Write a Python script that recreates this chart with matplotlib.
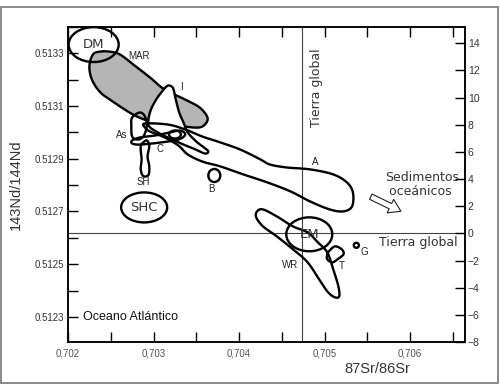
import matplotlib
matplotlib.use('Agg')
import matplotlib.pyplot as plt
import numpy as np
from matplotlib.patches import Ellipse, Polygon, Rectangle
from matplotlib.ticker import MultipleLocator, FuncFormatter

# field outlines: 87Sr/86Sr vs eps Nd
mar_sr = [0.70229, 0.70237, 0.70249, 0.70261, 0.70278, 0.70296, 0.70313, 0.70337, 0.70354, 0.70363,
          0.70360, 0.70352, 0.70335, 0.70313, 0.70296, 0.70276, 0.70249, 0.70237, 0.70228, 0.70225]
mar_eps = [13.16, 13.38, 13.38, 13.16, 12.35, 11.47, 10.59, 9.85, 9.26, 8.53,
           8.01, 7.79, 7.87, 8.01, 8.24, 8.75, 9.85, 10.44, 11.32, 12.28]

ice_sr = [0.70315, 0.70319, 0.70323, 0.70326, 0.70330, 0.70335, 0.70340, 0.70350, 0.70359, 0.70364,
          0.70360, 0.70349, 0.70335, 0.70319, 0.70305, 0.70295, 0.70294, 0.70297, 0.70303, 0.70309]
ice_eps = [10.81, 10.88, 10.66, 9.85, 8.90, 8.16, 7.43, 6.76, 6.32, 6.03,
           5.88, 6.18, 6.54, 6.99, 7.43, 7.87, 8.38, 9.12, 9.85, 10.37]

a_sr = [0.70290, 0.70317, 0.70337, 0.70357, 0.70375, 0.70401, 0.70425, 0.70436, 0.70456, 0.70483,
        0.70510, 0.70526, 0.70533, 0.70532, 0.70522, 0.70506, 0.70483, 0.70460, 0.70433, 0.70405,
        0.70378, 0.70357, 0.70340, 0.70329, 0.70313, 0.70296, 0.70290]
a_eps = [8.09, 8.01, 7.65, 7.13, 6.76, 6.18, 5.44, 5.07, 4.85, 4.71,
         4.34, 3.75, 3.01, 1.99, 1.62, 1.76, 2.35, 3.09, 3.75, 4.34,
         4.93, 5.29, 5.81, 6.47, 7.06, 7.50, 7.79]

as_sr = [0.70275, 0.70284, 0.70290, 0.70292, 0.70288, 0.70281, 0.70275, 0.70274]
as_eps = [8.53, 8.90, 8.60, 7.87, 7.13, 6.91, 7.13, 7.87]

c_sr = [0.70275, 0.70284, 0.70302, 0.70319, 0.70331, 0.70337, 0.70329, 0.70308, 0.70284, 0.70275]
c_eps = [6.84, 7.06, 7.21, 7.43, 7.57, 7.28, 6.91, 6.69, 6.54, 6.62]

sh_sr = [0.70290, 0.70285, 0.70286, 0.70285, 0.70288, 0.70294, 0.70295, 0.70293, 0.70295, 0.70293]
sh_eps = [6.80, 6.40, 5.44, 4.71, 4.22, 4.30, 4.93, 5.66, 6.40, 6.80]

wr_sr = [0.70421, 0.70428, 0.70444, 0.70463, 0.70480, 0.70492, 0.70503, 0.70510, 0.70516, 0.70517,
         0.70512, 0.70504, 0.70495, 0.70480, 0.70463, 0.70444, 0.70428, 0.70420]
wr_eps = [1.62, 1.76, 1.25, 0.51, 0.07, -0.66, -1.40, -2.65, -3.90, -4.63,
          -4.71, -4.34, -3.53, -2.13, -1.18, -0.22, 0.51, 1.18]

t_sr = [0.70505, 0.70512, 0.70520, 0.70522, 0.70515, 0.70509, 0.70503, 0.70503]
t_eps = [-1.32, -0.96, -1.18, -1.54, -1.91, -2.13, -1.91, -1.54]

# elliptical fields: (sr, eps, width sr, height eps)
dm = (0.70230, 13.90, 0.000585, 2.57)
shc = (0.70289, 1.91, 0.000538, 2.21)
em = (0.70482, -0.07, 0.000538, 2.50)
c_small = (0.70325, 7.28, 0.00014, 0.59)
b_field = (0.70371, 4.26, 0.00014, 0.96)
g_field = (0.70537, -0.88, 0.00006, 0.37)

bulk_earth_sr = 0.70474
bulk_earth_eps = 0.0


def smooth(xs, ys, n=14):
    p = np.column_stack([xs, ys])
    m = len(p)
    t = np.linspace(0, 1, n, endpoint=False)[:, None]
    out = []
    for i in range(m):
        p0, p1, p2, p3 = p[i - 1], p[i], p[(i + 1) % m], p[(i + 2) % m]
        out.append(0.5 * (2 * p1 + (-p0 + p2) * t + (2 * p0 - 5 * p1 + 4 * p2 - p3) * t ** 2
                          + (-p0 + 3 * p1 - 3 * p2 + p3) * t ** 3))
    return np.vstack(out)


fig = plt.figure(figsize=(5, 3.85), dpi=100)
fig.patches.append(Rectangle((0.002, 0.005), 0.994, 0.977, transform=fig.transFigure,
                             fill=False, ec='#8a8a8a', lw=1.4))

ax = fig.add_axes([0.136, 0.1117, 0.794, 0.8183])
axl = ax.twinx()
ax.set_xlim(0.702, 0.70664)
ax.set_ylim(-7.95, 15.2)

lw = 1.7
ax.axvline(bulk_earth_sr, color='#444444', lw=0.8, zorder=1)
ax.axhline(bulk_earth_eps, color='#444444', lw=0.8, zorder=1)

ax.add_patch(Polygon(smooth(mar_sr, mar_eps), closed=True, fc='#b5b5b5', ec='black', lw=lw, zorder=2))
for xs, ys in [(ice_sr, ice_eps), (a_sr, a_eps), (as_sr, as_eps), (c_sr, c_eps),
               (sh_sr, sh_eps), (wr_sr, wr_eps), (t_sr, t_eps)]:
    fc = 'white' if xs is ice_sr else 'none'
    ax.add_patch(Polygon(smooth(xs, ys), closed=True, fc=fc, ec='black', lw=lw, zorder=3))

for e in [dm, shc, em, c_small, b_field, g_field]:
    ax.add_patch(Ellipse((e[0], e[1]), e[2], e[3], fc='none', ec='black', lw=lw, zorder=4))

big = dict(fontsize=9.5, ha='center', va='center', color='#333333', zorder=5)
ax.text(dm[0], dm[1], 'DM', **big)
ax.text(shc[0], shc[1], 'SHC', **big)
ax.text(em[0], em[1], 'EM', **big)

small = dict(fontsize=7, family='Liberation Sans', ha='center', va='center', color='#222222')
ax.text(0.70270, 13.09, 'MAR', ha='left', va='center', fontsize=7, family='Liberation Sans', color='#222222')
ax.text(0.70333, 10.81, 'I', **small)
ax.text(0.70263, 7.28, 'As', **small)
ax.text(0.70308, 6.18, 'C', **small)
ax.text(0.70288, 3.75, 'SH', **small)
ax.text(0.70368, 3.24, 'B', **small)
ax.text(0.70489, 5.22, 'A', **small)
ax.text(0.70460, -2.35, 'WR', **small)
ax.text(0.70520, -2.43, 'T', **small)
ax.text(0.70546, -1.40, 'G', **small)

ax.text(0.70491, 10.74, 'Tierra global', rotation=90, ha='center', va='center', fontsize=9, color='#333333')
ax.text(0.70609, -0.66, 'Tierra global', ha='center', va='center', fontsize=9, color='#333333')
ax.text(0.70571, 3.6, 'Sedimentos\n oceánicos', ha='left', va='center', fontsize=9,
        color='#333333', linespacing=1.05)
ax.text(0.70218, -6.18, 'Oceano Atlántico', ha='left', va='center', fontsize=9,
        family='Liberation Sans', color='#111111')
ax.annotate('', xy=(0.70592, 1.54), xytext=(0.70551, 2.79),
            arrowprops=dict(arrowstyle='simple,head_length=0.7,head_width=0.9,tail_width=0.35',
                            fc='white', ec='#222222', lw=0.8, mutation_scale=12))

# axes and ticks
for s in ax.spines.values():
    s.set_linewidth(1.1)
ax.set_xticks([0.702, 0.703, 0.704, 0.705, 0.706])
ax.xaxis.set_minor_locator(MultipleLocator(0.0005))
ax.xaxis.set_major_formatter(FuncFormatter(lambda v, p: ('%.3f' % v).replace('.', ',')))
ax.tick_params(axis='x', which='both', direction='in', top=True, length=7, width=1,
               labelsize=7, labelcolor='#555555', pad=5)
ax.yaxis.tick_right()
ax.set_yticks(np.arange(-8, 15, 2))
ax.tick_params(axis='y', which='both', direction='in', left=False, right=True, labelleft=False,
               labelright=True, length=7, width=1, labelsize=7.5, labelcolor='#333333', pad=2)
for lab in ax.get_xticklabels() + ax.get_yticklabels():
    lab.set_family('Liberation Sans')
ax.set_xlabel('87Sr/86Sr', fontsize=10.5, family='Liberation Sans', color='#333333', x=0.78, labelpad=2)

axl.set_ylim(0.512205, 0.51340)
axl.yaxis.set_ticks_position('left')
axl.yaxis.set_label_position('left')
axl.set_yticks([0.5123, 0.5125, 0.5127, 0.5129, 0.5131, 0.5133])
axl.yaxis.set_minor_locator(MultipleLocator(0.0001))
axl.yaxis.set_major_formatter(FuncFormatter(lambda v, p: '%.4f' % v))
axl.tick_params(axis='y', which='both', direction='in', left=True, right=False, labelleft=True,
                labelright=False, length=7, width=1, labelsize=7, labelcolor='#333333', pad=3)
for lab in axl.get_yticklabels():
    lab.set_family('Liberation Sans')
axl.set_ylabel('143Nd/144Nd', fontsize=10.5, family='Liberation Sans', color='#333333', labelpad=8)
for s in axl.spines.values():
    s.set_linewidth(1.1)

plt.savefig('out.png', dpi=100)
